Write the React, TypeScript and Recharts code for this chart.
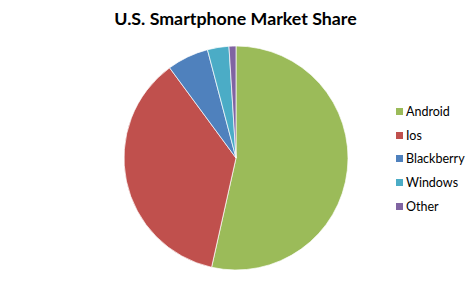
import React from "react";
import { PieChart, Pie, Cell, Legend } from "recharts";

const categories = ["Android", "Ios", "Blackberry", "Windows", "Other"];
const shares = [53.5, 36.4, 6.0, 3.1, 1.0];
const colors = ["#9BBB59", "#C0504D", "#4F81BD", "#4BACC6", "#8064A2"];

const data = categories.map((name, i) => ({ name, value: shares[i] }));

const font = "Lato, 'Open Sans', sans-serif";

const LegendContent = () => (
  <div style={{ fontFamily: font, fontSize: 12.5, color: "#000" }}>
    {categories.map((c, i) => (
      <div key={c} style={{ display: "flex", alignItems: "center", height: 23.7 }}>
        <span style={{ width: 7, height: 7, background: colors[i], display: "inline-block", marginRight: 3 }} />
        <span>{c}</span>
      </div>
    ))}
  </div>
);

export default function App() {
  return (
    <div style={{ position: "absolute", left: 0, top: 0, width: 473, height: 282, background: "#fff" }}>
      <div
        style={{
          position: "absolute",
          left: 0,
          width: 471,
          top: 7,
          textAlign: "center",
          fontFamily: font,
          fontWeight: 700,
          fontSize: 17.8,
        }}
      >
        U.S. Smartphone Market Share
      </div>
      <PieChart width={473} height={282} margin={{ top: 0, right: 0, bottom: 0, left: 0 }}>
        <Pie
          data={data}
          dataKey="value"
          nameKey="name"
          cx={236}
          cy={158}
          outerRadius={112}
          startAngle={90}
          endAngle={-270}
          stroke="#fff"
          strokeWidth={0.7}
          isAnimationActive={false}
        >
          {data.map((d, i) => (
            <Cell key={d.name} fill={colors[i]} />
          ))}
        </Pie>
        <Legend
          content={<LegendContent />}
          wrapperStyle={{ position: "absolute", left: 396, top: 99.5, width: 77 }}
        />
      </PieChart>
    </div>
  );
}
